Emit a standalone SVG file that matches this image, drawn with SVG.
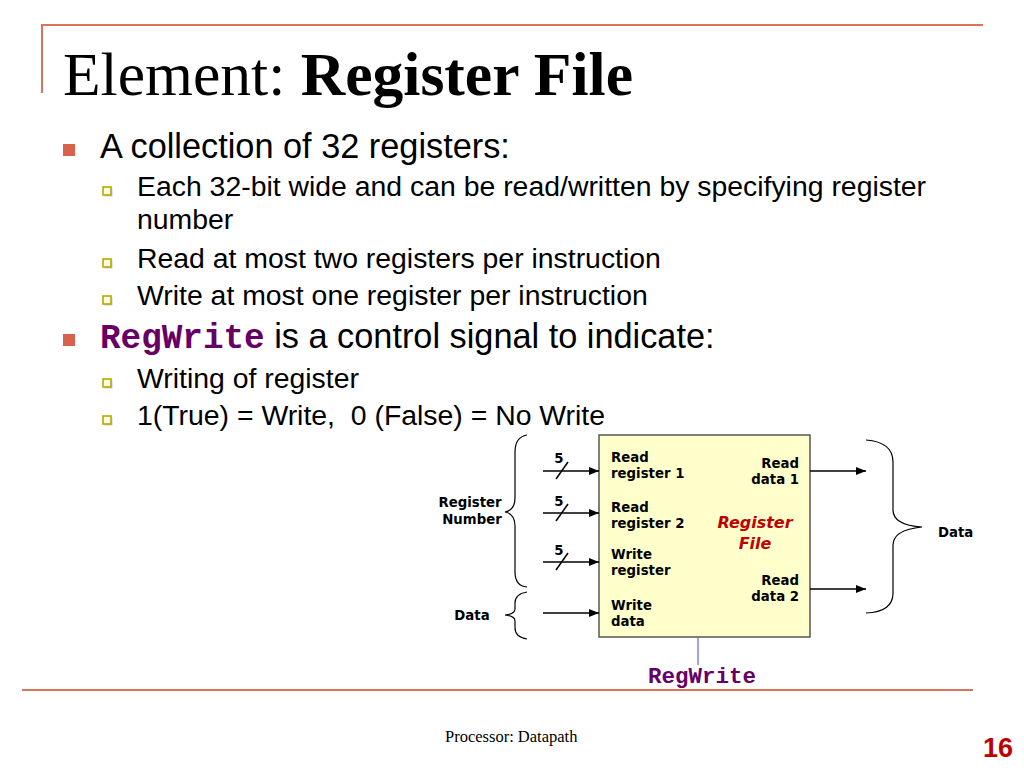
<svg xmlns="http://www.w3.org/2000/svg" width="1024" height="768" viewBox="0 0 1024 768">
<defs>
<marker id="arr" viewBox="0 0 10 10" refX="10" refY="5" markerWidth="10" markerHeight="10" markerUnits="userSpaceOnUse" orient="auto">
<path d="M0,1 L10,5 L0,9 Z" fill="#000"/>
</marker>
<g id="sb">
<rect x="1.5" y="1.5" width="8" height="8" fill="#9a9a9a" opacity="0.5"/>
<rect x="0" y="0" width="8" height="8" fill="#fffbe0" stroke="#b8a800" stroke-width="1.6"/>
</g>
</defs>
<style>
.body{font-family:"Liberation Sans",Arial,sans-serif;fill:#000}
.b1{font-size:34.3px}
.b2{font-size:28.4px}
.mono{font-family:"Liberation Mono","Courier New",monospace;font-weight:bold;fill:#660066}
.lbl{font-family:"DejaVu Sans",Verdana,sans-serif;font-weight:bold;font-size:13.3px;fill:#000}
.wire{stroke:#000;stroke-width:1.5;fill:none}
.brace{stroke:#000;stroke-width:1.2;fill:none}
.rule{stroke:#d9745a;stroke-width:2;fill:none}
</style>
<rect width="1024" height="768" fill="#fff"/>
<!-- slide frame lines -->
<path class="rule" d="M42,93 L42,25 L983,25"/>
<line class="rule" x1="22" y1="690" x2="973" y2="690"/>
<!-- title -->
<text x="63" y="95" font-family="'Liberation Serif','Times New Roman',serif" font-size="62" fill="#000" textLength="570" lengthAdjust="spacingAndGlyphs">Element: <tspan font-weight="bold">Register File</tspan></text>
<!-- bullets -->
<rect x="63" y="144" width="12" height="12" fill="#d9634a"/>
<text class="body b1" x="100" y="158">A collection of 32 registers:</text>
<use href="#sb" x="103" y="187"/>
<text class="body b2" x="137" y="196">Each 32-bit wide and can be read/written by specifying register</text>
<text class="body b2" x="137" y="229">number</text>
<use href="#sb" x="103" y="259"/>
<text class="body b2" x="137" y="268">Read at most two registers per instruction</text>
<use href="#sb" x="103" y="296"/>
<text class="body b2" x="137" y="305">Write at most one register per instruction</text>
<rect x="63" y="334" width="12" height="12" fill="#d9634a"/>
<text class="body b1" x="100" y="348"><tspan class="mono">RegWrite</tspan> is a control signal to indicate:</text>
<use href="#sb" x="103" y="379"/>
<text class="body b2" x="137" y="388">Writing of register</text>
<use href="#sb" x="103" y="416"/>
<text class="body b2" x="137" y="425" xml:space="preserve">1(True) = Write,  0 (False) = No Write</text>

<!-- Register File node -->
<g id="regfile">
<rect x="599" y="435" width="211" height="202" fill="#ffffcc" stroke="#555" stroke-width="1.5"/>
<text class="lbl" x="611" y="462">Read</text>
<text class="lbl" x="611" y="478">register 1</text>
<text class="lbl" x="611" y="512">Read</text>
<text class="lbl" x="611" y="528">register 2</text>
<text class="lbl" x="611" y="559">Write</text>
<text class="lbl" x="611" y="575">register</text>
<text class="lbl" x="611" y="610">Write</text>
<text class="lbl" x="611" y="626">data</text>
<text class="lbl" x="799" y="468" text-anchor="end">Read</text>
<text class="lbl" x="799" y="484" text-anchor="end">data 1</text>
<text class="lbl" x="799" y="585" text-anchor="end">Read</text>
<text class="lbl" x="799" y="601" text-anchor="end">data 2</text>
<text x="755" y="528" text-anchor="middle" font-family="'DejaVu Sans',Verdana,sans-serif" font-weight="bold" font-style="italic" font-size="16" fill="#c00000">Register</text>
<text x="755" y="549" text-anchor="middle" font-family="'DejaVu Sans',Verdana,sans-serif" font-weight="bold" font-style="italic" font-size="16" fill="#c00000">File</text>
</g>

<!-- side labels -->
<g id="regnum-label">
<text class="lbl" x="470" y="507" text-anchor="middle">Register</text>
<text class="lbl" x="472" y="524" text-anchor="middle">Number</text>
</g>
<g id="data-in-label">
<text class="lbl" x="472" y="620" text-anchor="middle">Data</text>
</g>
<g id="data-out-label">
<text class="lbl" x="938" y="537">Data</text>
</g>
<g id="regwrite-label">
<text class="mono" x="702" y="683" text-anchor="middle" font-size="22.5">RegWrite</text>
</g>

<!-- connectors -->
<g id="connectors">
<line class="wire" x1="543" y1="471" x2="599" y2="471" marker-end="url(#arr)"/>
<line class="wire" x1="543" y1="513" x2="599" y2="513" marker-end="url(#arr)"/>
<line class="wire" x1="543" y1="562" x2="599" y2="562" marker-end="url(#arr)"/>
<line class="wire" x1="543" y1="613" x2="599" y2="613" marker-end="url(#arr)"/>
<line class="wire" x1="556" y1="479" x2="568" y2="462"/>
<line class="wire" x1="556" y1="521" x2="568" y2="504"/>
<line class="wire" x1="556" y1="570" x2="568" y2="553"/>
<text class="lbl" x="559" y="463" text-anchor="middle">5</text>
<text class="lbl" x="559" y="506" text-anchor="middle">5</text>
<text class="lbl" x="559" y="555" text-anchor="middle">5</text>
<line class="wire" x1="810" y1="471" x2="866" y2="471" marker-end="url(#arr)"/>
<line class="wire" x1="810" y1="589" x2="866" y2="589" marker-end="url(#arr)"/>
<line x1="698" y1="637" x2="698" y2="665" stroke="#6666cc" stroke-width="1.2"/>
<path class="brace" d="M527,435 Q515,437 515,452 L515,498 Q515,510 505,512 Q515,514 515,526 L515,572 Q515,586 527,587"/>
<path class="brace" d="M527,592 Q515,594 515,603 L515,609 Q515,614 505,615 Q515,616 515,621 L515,628 Q515,637 527,639"/>
<path class="brace" d="M866,440 Q893,442 893,462 L893,510 Q893,525 922,527 Q893,530 893,545 L893,593 Q893,612 866,613"/>
</g>

<!-- footer -->
<text x="445" y="742" font-family="'Liberation Serif','Times New Roman',serif" font-size="16.5" fill="#000">Processor: Datapath</text>
<text x="1013" y="757" text-anchor="end" font-family="'Liberation Sans',Arial,sans-serif" font-weight="bold" font-size="27" fill="#c00000">16</text>
</svg>
